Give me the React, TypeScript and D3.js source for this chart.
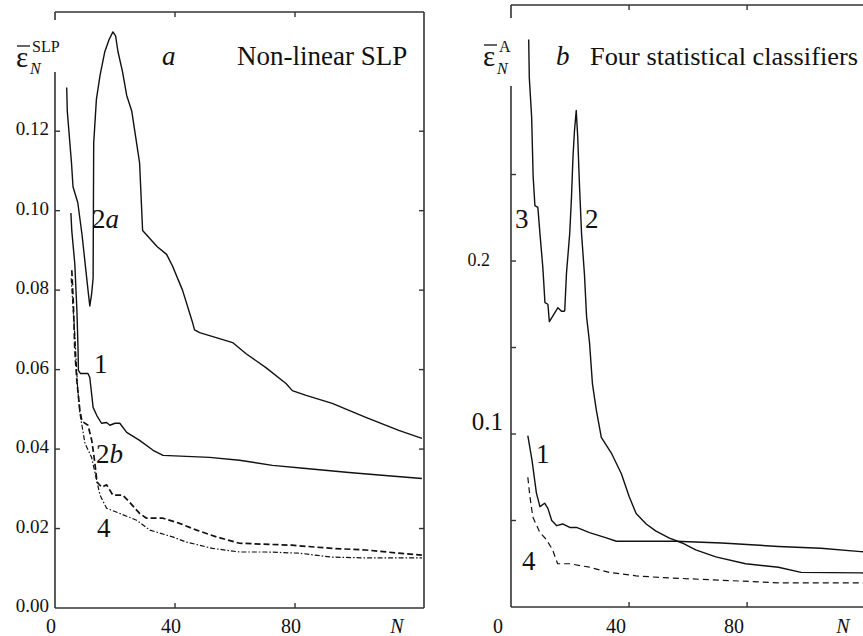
import React from "react";
import * as d3 from "d3";

// ---------- data ----------
// Panel a: Non-linear SLP
const a2aN = [3.9, 4.1, 5.5, 6, 7.6, 9, 10, 11, 11.6, 12.2, 12.7, 12.9, 13.8, 15, 16.6, 18, 19.3, 20.2, 21, 22.5, 23.9, 25.6, 27, 28.2, 29.2, 31.6, 34, 37.2, 39.2, 42.5, 45.8, 46.5, 48.2, 54, 59.2, 63.7, 70.3, 77, 79.1, 83.7, 92.4, 103.6, 114.6, 122.3];
const a2aV = [0.131, 0.125, 0.112, 0.106, 0.102, 0.094, 0.087, 0.080, 0.076, 0.079, 0.083, 0.117, 0.128, 0.134, 0.140, 0.143, 0.145, 0.144, 0.140, 0.135, 0.129, 0.125, 0.118, 0.112, 0.095, 0.093, 0.091, 0.089, 0.086, 0.080, 0.072, 0.070, 0.0693, 0.068, 0.0668, 0.064, 0.0605, 0.0565, 0.0547, 0.0535, 0.0515, 0.048, 0.0447, 0.0427];

const a1N = [5.3, 5.6, 6.6, 7.3, 7.7, 7.8, 8.5, 10, 11, 11.6, 12.7, 13.9, 15.5, 17.2, 18.3, 20, 21.6, 23.9, 28.2, 32.7, 36, 51.5, 61.5, 72.5, 83.7, 98, 109, 122.3];
const a1V = [0.0994, 0.0949, 0.0866, 0.075, 0.0648, 0.0598, 0.059, 0.059, 0.059, 0.058, 0.0505, 0.0485, 0.0465, 0.0467, 0.046, 0.0465, 0.0465, 0.0442, 0.0422, 0.0397, 0.0384, 0.0379, 0.0372, 0.0359, 0.0351, 0.0341, 0.0334, 0.0326];

const a2bN = [5.6, 6.1, 6.6, 7.3, 8.3, 9, 11, 12.3, 13.3, 14, 15.6, 17.2, 19.3, 22.6, 24.9, 28.2, 30.5, 36, 41.5, 47.2, 53.8, 61.5, 79, 92.4, 103.6, 114.6, 122.3];
const a2bV = [0.085, 0.077, 0.065, 0.057, 0.0497, 0.047, 0.046, 0.042, 0.0364, 0.0317, 0.0304, 0.031, 0.0284, 0.0284, 0.0266, 0.0238, 0.0226, 0.0226, 0.0213, 0.0196, 0.0179, 0.0163, 0.0158, 0.0150, 0.0146, 0.0138, 0.0133];

const a4N = [5.4, 6.5, 7.5, 8.3, 10, 12.2, 15, 17.2, 21.6, 27.2, 31.6, 39.2, 43.8, 52.5, 61.5, 70.3, 81.4, 92.4, 103.6, 122.3];
const a4V = [0.083, 0.070, 0.056, 0.049, 0.0414, 0.0379, 0.0284, 0.0251, 0.0238, 0.0221, 0.0196, 0.0179, 0.0166, 0.0150, 0.0141, 0.0141, 0.0138, 0.0128, 0.0126, 0.0126];

// Panel b: Four statistical classifiers
const b3N = [6.0, 6.2, 7.0, 7.5, 8.1, 9.1, 9.8, 10.8, 11.5, 12.5, 13.0, 14.1, 15.9, 17.1, 18.2];
const b3V = [0.328, 0.306, 0.283, 0.249, 0.232, 0.231, 0.216, 0.196, 0.176, 0.175, 0.165, 0.168, 0.173, 0.171, 0.171];

const b2N = [18.2, 18.8, 19.9, 20.5, 21.0, 21.5, 22.1, 22.6, 23.2, 23.9, 24.9, 25.6, 26.6, 27.6, 28.9, 30.6, 34, 37.4, 40, 42.4, 45.8, 49, 53.5, 58, 62.6, 69.4, 79.5, 90.6, 98.3, 118.5, 123];
const b2V = [0.171, 0.193, 0.216, 0.237, 0.26, 0.275, 0.287, 0.272, 0.244, 0.216, 0.192, 0.168, 0.153, 0.129, 0.114, 0.098, 0.089, 0.077, 0.064, 0.054, 0.048, 0.044, 0.040, 0.037, 0.033, 0.029, 0.025, 0.023, 0.020, 0.0197, 0.0195];

const b1N = [5.7, 7.1, 8.6, 9.8, 11.4, 12.5, 13.8, 15.5, 17.5, 19.9, 22.2, 26.6, 32.3, 35.7, 55.9, 71.4, 90.6, 105, 118.5, 123];
const b1V = [0.099, 0.085, 0.066, 0.058, 0.060, 0.057, 0.050, 0.047, 0.048, 0.046, 0.046, 0.043, 0.040, 0.038, 0.038, 0.037, 0.035, 0.034, 0.032, 0.0318];

const b4N = [5.7, 6.4, 7.4, 9.8, 12, 14.1, 15.8, 19.9, 26.6, 33.3, 42.4, 51.2, 90.6, 118.5, 123];
const b4V = [0.075, 0.064, 0.052, 0.043, 0.039, 0.033, 0.025, 0.025, 0.023, 0.020, 0.018, 0.017, 0.014, 0.014, 0.014];

// ticks
const xTicks = [0, 40, 80];
const aYTicks = [0.0, 0.02, 0.04, 0.06, 0.08, 0.10, 0.12];
const aYTickLabels = ["0.00", "0.02", "0.04", "0.06", "0.08", "0.10", "0.12"];
const bYTicks = [0.05, 0.1, 0.15, 0.2, 0.25];
const bYLabelVals = [0.1, 0.2];
const bYTickLabels = ["0.1", "0.2"];

// ---------- layout ----------
const W = 863, H = 636;
const A = { x0: 55, x1: 424, y0: 608, y1: 12 };
const B = { x0: 511, x1: 874, y0: 607, y1: 5 };
const FONT = "Liberation Serif, DejaVu Serif, Times New Roman, serif";
const INK = "#111";

const axA = d3.scaleLinear().domain([0, 123]).range([A.x0, A.x1]);
const ayA = d3.scaleLinear().domain([0, 0.15]).range([A.y0, A.y1]);
const axB = d3.scaleLinear().domain([0, 123]).range([B.x0, B.x1]);
const ayB = d3.scaleLinear().domain([0, 0.348]).range([B.y0, B.y1]);

function pathFor(xs: number[], ys: number[], sx: any, sy: any) {
  const pts: [number, number][] = xs.map((n, i) => [n, ys[i]]);
  return d3.line<[number, number]>().x((d) => sx(d[0])).y((d) => sy(d[1]))(pts) || "";
}

const Curve = ({ d, dash, w }: { d: string; dash?: string; w?: number }) => (
  <path d={d} fill="none" stroke={INK} strokeWidth={w ?? 1.4} strokeDasharray={dash} strokeLinejoin="round" />
);

export default function App() {
  const T = 5; // tick length
  return (
    <svg width={W} height={H} style={{ position: "absolute", left: 0, top: 0, background: "#fff", fontFamily: FONT }}>
      <rect x={0} y={0} width={W} height={H} fill="#fff" />

      {/* ===== Panel a ===== */}
      <g stroke="#333" strokeWidth={1.6} fill="none">
        <line x1={A.x0} y1={A.y1} x2={A.x1} y2={A.y1} />
        <line x1={A.x1} y1={A.y1} x2={A.x1} y2={A.y0} />
        <line x1={A.x0} y1={A.y0} x2={A.x1} y2={A.y0} />
        <line x1={A.x0} y1={A.y1} x2={A.x0} y2={20} />
        <line x1={A.x0} y1={72} x2={A.x0} y2={A.y0} />
      </g>
      <g stroke="#333" strokeWidth={1.4}>
        {aYTicks.filter((v) => v > 0).map((v) => (
          <g key={"at" + v}>
            <line x1={A.x0} x2={A.x0 + T} y1={ayA(v)} y2={ayA(v)} />
            <line x1={A.x1} x2={A.x1 - T} y1={ayA(v)} y2={ayA(v)} />
          </g>
        ))}
        {xTicks.filter((v) => v > 0).map((v) => (
          <g key={"ax" + v}>
            <line x1={axA(v)} x2={axA(v)} y1={A.y0} y2={A.y0 - T} />
            <line x1={axA(v)} x2={axA(v)} y1={A.y1} y2={A.y1 + T} />
          </g>
        ))}
      </g>
      <g fontSize={19} fill={INK} textAnchor="end">
        {aYTicks.map((v, i) => (
          <text key={"al" + v} x={A.x0 - 6} y={ayA(v) + 4}>{aYTickLabels[i]}</text>
        ))}
      </g>
      <g fontSize={20} fill={INK} textAnchor="middle">
        {xTicks.map((v) => (
          <text key={"axl" + v} x={axA(v) - 4} y={633}>{v}</text>
        ))}
        <text x={axA(114)} y={633} fontStyle="italic">N</text>
      </g>
      {/* y label a */}
      <text x={16} y={67} fontSize={29} fill={INK}>ε</text>
      <line x1={17} x2={30} y1={46} y2={46} stroke={INK} strokeWidth={1.3} />
      <text x={32} y={52} fontSize={16} fill={INK}>SLP</text>
      <text x={30} y={74} fontSize={16} fill={INK} fontStyle="italic">N</text>

      <text x={162} y={65} fontSize={27} fontStyle="italic" fill={INK}>a</text>
      <text x={237} y={65} fontSize={27} fill={INK}>Non-linear SLP</text>

      <Curve d={pathFor(a4N, a4V, axA, ayA)} dash="5,2,1.5,2" w={1.2} />
      <Curve d={pathFor(a2bN, a2bV, axA, ayA)} dash="6,3" w={1.7} />
      <Curve d={pathFor(a1N, a1V, axA, ayA)} />
      <Curve d={pathFor(a2aN, a2aV, axA, ayA)} />

      <g fontSize={27} fill={INK}>
        <text x={92} y={228}>2<tspan fontStyle="italic">a</tspan></text>
        <text x={94} y={373}>1</text>
        <text x={96} y={463}>2<tspan fontStyle="italic">b</tspan></text>
        <text x={97} y={537}>4</text>
      </g>

      {/* ===== Panel b ===== */}
      <g stroke="#333" strokeWidth={1.6} fill="none">
        <line x1={B.x0} y1={B.y1} x2={W} y2={B.y1} />
        <line x1={B.x0} y1={B.y0} x2={W} y2={B.y0} />
        <line x1={B.x0} y1={B.y1} x2={B.x0} y2={18} />
        <line x1={B.x0} y1={86} x2={B.x0} y2={B.y0} />
      </g>
      <g stroke="#333" strokeWidth={1.4}>
        {bYTicks.map((v) => (
          <line key={"bt" + v} x1={B.x0} x2={B.x0 + T} y1={ayB(v)} y2={ayB(v)} />
        ))}
        {xTicks.filter((v) => v > 0).map((v) => (
          <g key={"bx" + v}>
            <line x1={axB(v)} x2={axB(v)} y1={B.y0} y2={B.y0 - T} />
            <line x1={axB(v)} x2={axB(v)} y1={B.y1} y2={B.y1 + T} />
          </g>
        ))}
      </g>
      <g fill={INK} textAnchor="end">
        <text x={490} y={ayB(bYLabelVals[1]) + 5} fontSize={18}>{bYTickLabels[1]}</text>
        <text x={503} y={ayB(bYLabelVals[0]) - 4} fontSize={25}>{bYTickLabels[0]}</text>
      </g>
      <g fontSize={20} fill={INK} textAnchor="middle">
        {xTicks.map((v) => (
          <text key={"bxl" + v} x={axB(v) - 13} y={633}>{v}</text>
        ))}
        <text x={axB(112.5)} y={633} fontStyle="italic">N</text>
      </g>
      {/* y label b */}
      <text x={483} y={66} fontSize={29} fill={INK}>ε</text>
      <line x1={484} x2={497} y1={45} y2={45} stroke={INK} strokeWidth={1.3} />
      <text x={499} y={52} fontSize={16} fill={INK}>A</text>
      <text x={497} y={74} fontSize={16} fill={INK} fontStyle="italic">N</text>

      <text x={556} y={65} fontSize={27} fontStyle="italic" fill={INK}>b</text>
      <text x={590} y={65} fontSize={26} fill={INK} textLength={268} lengthAdjust="spacingAndGlyphs">Four statistical classifiers</text>

      <Curve d={pathFor(b4N, b4V, axB, ayB)} dash="6,4" w={1.2} />
      <Curve d={pathFor(b1N, b1V, axB, ayB)} />
      <Curve d={pathFor(b3N, b3V, axB, ayB)} />
      <Curve d={pathFor(b2N, b2V, axB, ayB)} />

      <g fontSize={27} fill={INK}>
        <text x={515} y={228}>3</text>
        <text x={585} y={228}>2</text>
        <text x={536} y={463}>1</text>
        <text x={522} y={570}>4</text>
      </g>
    </svg>
  );
}
